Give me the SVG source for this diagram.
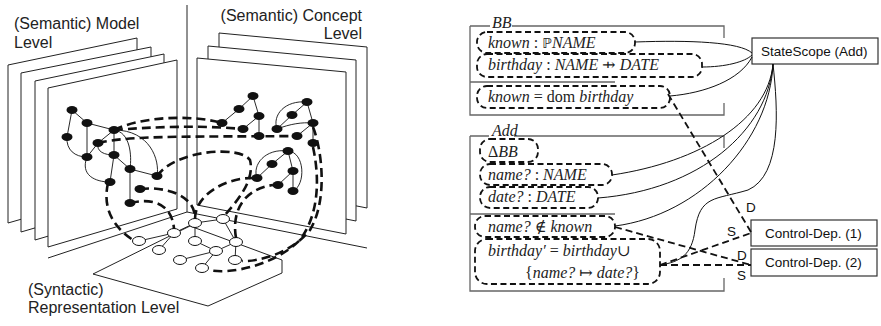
<svg xmlns="http://www.w3.org/2000/svg" width="881" height="326" viewBox="0 0 881 326">
<style>
.lbl{font-family:"Liberation Sans",Arial,sans-serif;font-size:16px;fill:#222}
.plane{fill:#fff;stroke:#222;stroke-width:1}
.ln{fill:none;stroke:#222;stroke-width:1}
.e{fill:none;stroke:#111;stroke-width:0.9}
.bn{fill:#111}
.wn{fill:#fff;stroke:#111;stroke-width:1}
.map{fill:none;stroke:#111;stroke-width:2.6;stroke-dasharray:9 5}
.z{fill:none;stroke:#666;stroke-width:1.3}
.db{fill:none;stroke:#111;stroke-width:1.8;stroke-dasharray:6 3.5}
.m{font-family:"Liberation Serif","DejaVu Serif",serif;font-size:16px;fill:#222}
.i{font-style:italic}
.sym{font-family:"DejaVu Serif",serif;font-style:normal}
.pw{font-family:"DejaVu Sans",sans-serif;font-style:normal;font-size:14px;fill:#222}
.box{fill:#fff;stroke:#333;stroke-width:1.2}
.bt{font-family:"Liberation Sans",Arial,sans-serif;font-size:13.5px;fill:#111}
.c{fill:none;stroke:#111;stroke-width:1}
.dc{fill:none;stroke:#111;stroke-width:1.8;stroke-dasharray:7 4}
</style>

<!-- ===== Left: three-level scene ===== -->
<g id="scene">
  <!-- model level planes, back to front -->
  <g id="model-planes">
    <polygon class="plane" points="8,65 137,38 137,186 8,223"/>
    <polygon class="plane" points="21,73 151,47 151,194 21,232"/>
    <polygon class="plane" points="35,81 164,54 164,202 35,240"/>
    <polygon class="plane" points="48,88 177,60 177,209 48,247"/>
  </g>
  <!-- concept level planes, back to front -->
  <g id="concept-planes">
    <polygon class="plane" points="219,33 367,47 367,208 219,179"/>
    <polygon class="plane" points="208,46 356,60 356,221 208,192"/>
    <polygon class="plane" points="197,58 346,72 346,234 197,205"/>
  </g>
  <!-- corner axis and ground lines -->
  <line class="ln" x1="187" y1="5" x2="187" y2="212"/>
  <polyline class="ln" points="48,258 187,212 367,248"/>
  <!-- syntactic floor -->
  <polygon class="ln" points="93,274 190,226 282,260 282,273 208,306"/>

  <text class="lbl" x="14" y="29">(Semantic) Model</text>
  <text class="lbl" x="14" y="48">Level</text>
  <text class="lbl" x="362" y="21" text-anchor="end">(Semantic) Concept</text>
  <text class="lbl" x="362" y="39" text-anchor="end">Level</text>
  <text class="lbl" x="28" y="295">(Syntactic)</text>
  <text class="lbl" x="28" y="313">Representation Level</text>

  <!-- model graph -->
  <g id="model-graph">
    <path class="e" d="M72,110 L87,123 L114,130 M72,110 L67,137 M87,123 L87,157 M67,137 C66,150 75,157 87,157 M114,130 L98,143 L87,157 M114,130 L114,155 L130,169 L157,176 M130,169 L130,203 M87,157 C80,175 95,182 110,182 M114,155 L110,182 M114,130 C130,132 132,155 130,169 M114,130 C150,130 160,160 157,176 M98,143 C96,152 105,155 114,155"/>
    <ellipse class="bn" cx="72" cy="110" rx="5.5" ry="4"/>
    <ellipse class="bn" cx="87" cy="123" rx="5.5" ry="4"/>
    <ellipse class="bn" cx="67" cy="137" rx="5.5" ry="4"/>
    <ellipse class="bn" cx="114" cy="130" rx="5.5" ry="4"/>
    <ellipse class="bn" cx="98" cy="143" rx="5.5" ry="4"/>
    <ellipse class="bn" cx="87" cy="157" rx="5.5" ry="4"/>
    <ellipse class="bn" cx="114" cy="155" rx="5.5" ry="4"/>
    <ellipse class="bn" cx="130" cy="169" rx="5.5" ry="4"/>
    <ellipse class="bn" cx="110" cy="182" rx="5.5" ry="4"/>
    <ellipse class="bn" cx="157" cy="176" rx="5.5" ry="4"/>
    <ellipse class="bn" cx="140" cy="189" rx="5.5" ry="4"/>
    <ellipse class="bn" cx="130" cy="203" rx="5.5" ry="4"/>
  </g>

  <!-- concept graph -->
  <g id="concept-graph">
    <path class="e" d="M253,96 L239,109 L222,123 M253,96 L259,116 L243,129 M259,116 L259,136 M307,102 L292,115 L277,129 M307,102 C285,100 272,115 277,129 M307,102 L313,123 M277,129 C290,124 302,122 313,123 M313,123 L297,136 M313,123 L313,143 M288,151 L272,164 L257,178 M288,151 C265,148 252,165 257,178 M288,151 L293,171 L278,185 M293,171 L293,191 M288,151 C305,152 306,185 293,191"/>
    <ellipse class="bn" cx="253" cy="96" rx="5.5" ry="4"/>
    <ellipse class="bn" cx="239" cy="109" rx="5.5" ry="4"/>
    <ellipse class="bn" cx="259" cy="116" rx="5.5" ry="4"/>
    <ellipse class="bn" cx="222" cy="123" rx="5.5" ry="4"/>
    <ellipse class="bn" cx="243" cy="129" rx="5.5" ry="4"/>
    <ellipse class="bn" cx="259" cy="136" rx="5.5" ry="4"/>
    <ellipse class="bn" cx="307" cy="102" rx="5.5" ry="4"/>
    <ellipse class="bn" cx="292" cy="115" rx="5.5" ry="4"/>
    <ellipse class="bn" cx="313" cy="123" rx="5.5" ry="4"/>
    <ellipse class="bn" cx="277" cy="129" rx="5.5" ry="4"/>
    <ellipse class="bn" cx="297" cy="136" rx="5.5" ry="4"/>
    <ellipse class="bn" cx="313" cy="143" rx="5.5" ry="4"/>
    <ellipse class="bn" cx="288" cy="151" rx="5.5" ry="4"/>
    <ellipse class="bn" cx="272" cy="164" rx="5.5" ry="4"/>
    <ellipse class="bn" cx="293" cy="171" rx="5.5" ry="4"/>
    <ellipse class="bn" cx="257" cy="178" rx="5.5" ry="4"/>
    <ellipse class="bn" cx="278" cy="185" rx="5.5" ry="4"/>
    <ellipse class="bn" cx="293" cy="191" rx="5.5" ry="4"/>
  </g>

  <!-- syntax tree on the floor -->
  <g id="syntax-graph">
    <path class="e" d="M195,223 L223,219 M195,223 L174,233 L139,241 M174,233 L159,250 M195,223 L195,241 L216,251 L236,242 M216,251 L202,268 M180,260 L216,251 M236,242 L235,260 M223,219 L236,242"/>
    <ellipse class="wn" cx="195" cy="223" rx="6.5" ry="4.5"/>
    <ellipse class="wn" cx="223" cy="219" rx="6.5" ry="4.5"/>
    <ellipse class="wn" cx="174" cy="233" rx="6.5" ry="4.5"/>
    <ellipse class="wn" cx="195" cy="241" rx="6.5" ry="4.5"/>
    <ellipse class="wn" cx="236" cy="242" rx="6.5" ry="4.5"/>
    <ellipse class="wn" cx="139" cy="241" rx="6.5" ry="4.5"/>
    <ellipse class="wn" cx="159" cy="250" rx="6.5" ry="4.5"/>
    <ellipse class="wn" cx="216" cy="251" rx="6.5" ry="4.5"/>
    <ellipse class="wn" cx="180" cy="260" rx="6.5" ry="4.5"/>
    <ellipse class="wn" cx="235" cy="260" rx="6.5" ry="4.5"/>
    <ellipse class="wn" cx="202" cy="268" rx="6.5" ry="4.5"/>
  </g>

  <!-- dashed level mappings -->
  <g id="mappings">
    <path class="map" d="M114,130 C140,117 190,114 222,123"/>
    <path class="map" d="M114,130 C150,127 200,125 243,129"/>
    <path class="map" d="M98,143 C130,135 200,137 297,136"/>
    <path class="map" d="M157,176 C175,150 240,145 250,160 C255,180 238,200 225,215"/>
    <path class="map" d="M108,183 C103,205 110,225 133,240"/>
    <path class="map" d="M140,189 C165,186 195,195 195,218"/>
    <path class="map" d="M130,203 C150,198 172,202 174,229"/>
    <path class="map" d="M195,219 C195,195 225,178 252,178"/>
    <path class="map" d="M236,238 C232,215 240,190 273,185"/>
    <path class="map" d="M313,127 C322,150 328,200 310,230 C290,255 255,262 242,261"/>
    <path class="map" d="M313,147 C318,170 322,210 300,240 C275,265 230,275 209,270"/>
  </g>
</g>

<!-- ===== Right: Z schemas and their dependencies ===== -->
<g id="schema-BB">
  <path class="z" d="M470,26 H490 M512,26 H724 V38 M470,26 V115 H724 V103 M470,82 H615"/>
  <text class="m i" x="492" y="28">BB</text>
</g>
<g id="schema-Add">
  <path class="z" d="M470,136 H489 M514,136 H724 V148 M470,136 V291 H724 V278 M470,214 H615"/>
  <text class="m i" x="492" y="136">Add</text>
</g>

<g id="n-known">
  <rect class="db" x="477" y="32" width="158" height="21" rx="10"/>
  <text class="m" x="488" y="48"><tspan class="i">known</tspan> : <tspan class="pw">ℙ</tspan><tspan class="i">NAME</tspan></text>
</g>
<g id="n-birthday">
  <rect class="db" x="477" y="54" width="225" height="23" rx="10"/>
  <text class="m" x="488" y="70"><tspan class="i">birthday</tspan> : <tspan class="i">NAME</tspan> <tspan class="sym">⇸</tspan> <tspan class="i">DATE</tspan></text>
</g>
<g id="n-inv">
  <rect class="db" x="477" y="86" width="193" height="22" rx="10"/>
  <text class="m" x="488" y="102"><tspan class="i">known</tspan> = dom <tspan class="i">birthday</tspan></text>
</g>
<g id="n-delta">
  <rect class="db" x="480" y="139" width="58" height="23" rx="10"/>
  <text class="m" x="488" y="157">Δ<tspan class="i">BB</tspan></text>
</g>
<g id="n-name">
  <rect class="db" x="480" y="164" width="132" height="21" rx="10"/>
  <text class="m" x="488" y="180"><tspan class="i">name?</tspan> : <tspan class="i">NAME</tspan></text>
</g>
<g id="n-date">
  <rect class="db" x="480" y="187" width="118" height="21" rx="10"/>
  <text class="m" x="488" y="202"><tspan class="i">date?</tspan> : <tspan class="i">DATE</tspan></text>
</g>
<g id="n-pre">
  <rect class="db" x="475" y="216" width="140" height="21" rx="10"/>
  <text class="m" x="488" y="232"><tspan class="i">name?</tspan> <tspan class="sym">∉</tspan> <tspan class="i">known</tspan></text>
</g>
<g id="n-post">
  <rect class="db" x="475" y="239" width="185" height="45" rx="12"/>
  <text class="m" x="488" y="256"><tspan class="i">birthday′</tspan> = <tspan class="i">birthday</tspan>∪</text>
  <text class="m" x="525" y="278">{<tspan class="i">name?</tspan> <tspan class="sym">↦</tspan> <tspan class="i">date?</tspan>}</text>
</g>

<g id="n-statescope">
  <rect class="box" x="752" y="38" width="126" height="26"/>
  <text class="bt" x="761" y="56">StateScope (Add)</text>
</g>
<g id="n-cd1">
  <rect class="box" x="751" y="220" width="126" height="26"/>
  <text class="bt" x="765" y="238">Control-Dep. (1)</text>
</g>
<g id="n-cd2">
  <rect class="box" x="751" y="249" width="126" height="27"/>
  <text class="bt" x="765" y="267">Control-Dep. (2)</text>
</g>

<g id="connectors">
  <path class="c" d="M635,42 C690,40 740,42 752,53"/>
  <path class="c" d="M702,67 C725,67 745,62 752,55"/>
  <path class="c" d="M670,96 C705,93 740,80 752,57"/>
  <path class="c" d="M773,64 C768,120 700,162 612,175"/>
  <path class="c" d="M773,64 C768,130 700,190 598,198"/>
  <path class="c" d="M773,64 C770,140 700,215 615,226"/>
  <path class="c" d="M773,64 C778,110 782,175 748,190 C715,200 700,195 695,230 C692,255 680,262 660,265"/>
  <path class="dc" d="M668,94 L751,232"/>
  <path class="dc" d="M615,227 L751,265"/>
  <path class="dc" d="M660,265 L751,233"/>
  <path class="dc" d="M660,265 H751"/>
  <text class="bt" x="746" y="212">D</text>
  <text class="bt" x="727" y="236">S</text>
  <text class="bt" x="737" y="260">D</text>
  <text class="bt" x="737" y="280">S</text>
</g>
</svg>
